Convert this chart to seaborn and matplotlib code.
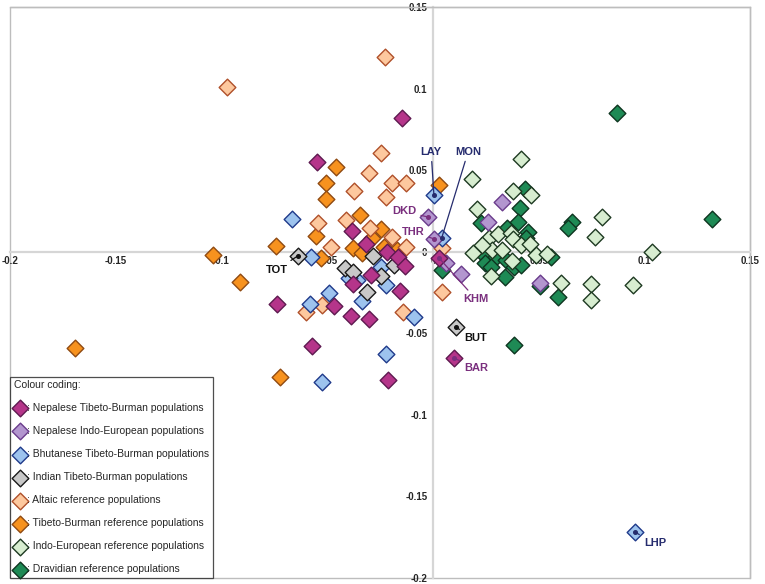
import matplotlib
matplotlib.use("Agg")
import matplotlib.pyplot as plt
from matplotlib.patches import Rectangle
import numpy as np
import pandas as pd
import seaborn as sns

# --- data (x, y per population group) ---
nep_tb_x = [-0.0146, -0.0547, -0.0382, -0.0316, -0.0217, -0.0165, -0.0132, -0.0292, -0.0377,
            -0.0156, -0.0736, -0.0467, -0.0387, -0.0302, -0.0571, -0.0212, 0.0099, 0.0028]
nep_tb_y = [0.0817, 0.0549, 0.0128, 0.0049, 0.0, -0.0030, -0.0085, -0.0140, -0.0195,
            -0.0238, -0.0323, -0.0335, -0.0396, -0.0415, -0.0579, -0.0787, -0.0652, -0.0037]

nep_ie_x = [-0.0024, 0.0005, 0.0325, 0.0259, 0.0061, 0.0132, 0.0509]
nep_ie_y = [0.0213, 0.0079, 0.0305, 0.0183, -0.0067, -0.0134, -0.0189]

bhu_tb_x = [-0.0665, -0.0575, -0.0491, -0.0580, -0.0335, -0.0245, -0.0222, -0.0358, -0.0090,
            -0.0222, -0.0524, -0.0396, 0.0005, 0.0042, 0.0958]
bhu_tb_y = [0.0201, -0.0030, -0.0256, -0.0323, -0.0305, -0.0091, -0.0207, -0.0171, -0.0402,
            -0.0628, -0.0799, -0.0159, 0.0348, 0.0085, -0.1720]

ind_tb_x = [-0.0637, 0.0108, -0.0283, -0.0415, -0.0377, -0.0245, -0.0311, -0.0184]
ind_tb_y = [-0.0024, -0.0463, -0.0024, -0.0098, -0.0122, -0.0146, -0.0244, -0.0079]

altaic_x = [-0.0226, -0.0972, -0.0245, -0.0302, -0.0373, -0.0193, -0.0127, -0.0222, -0.0542,
            -0.0410, -0.0297, -0.0481, -0.0193, -0.0127, 0.0042, 0.0042, -0.0142, -0.0599, -0.0524]
altaic_y = [0.1195, 0.1012, 0.0604, 0.0482, 0.0372, 0.0421, 0.0421, 0.0335, 0.0177,
            0.0195, 0.0146, 0.0030, 0.0091, 0.0030, 0.0024, -0.0250, -0.0372, -0.0372, -0.0329]

tb_ref_x = [-0.0458, -0.0505, -0.0505, -0.0344, -0.0552, -0.0741, -0.1042, -0.0910, -0.0528,
            -0.0245, -0.0377, -0.0335, -0.0231, -0.0288, 0.0028, -0.1693, -0.0722, -0.0170]
tb_ref_y = [0.0518, 0.0421, 0.0323, 0.0226, 0.0098, 0.0037, -0.0018, -0.0183, -0.0037,
            0.0140, 0.0024, -0.0006, 0.0030, 0.0085, 0.0409, -0.0591, -0.0768, 0.0012]

ie_ref_x = [0.0415, 0.0184, 0.0377, 0.0462, 0.0208, 0.0802, 0.0769, 0.1038, 0.0189, 0.0264,
            0.0307, 0.0368, 0.0377, 0.0415, 0.0458, 0.0486, 0.0538, 0.0278, 0.0325, 0.0373,
            0.0274, 0.0608, 0.0750, 0.0750, 0.0948, 0.0231]
ie_ref_y = [0.0567, 0.0445, 0.0372, 0.0348, 0.0262, 0.0213, 0.0091, 0.0, -0.0006, 0.0085,
            0.0110, 0.0116, 0.0079, 0.0043, 0.0049, -0.0018, -0.0012, 0.0012, 0.0012, -0.0055,
            -0.0146, -0.0189, -0.0195, -0.0293, -0.0201, 0.0043]

drav_x = [0.0873, 0.1321, 0.0382, 0.0594, 0.0656, 0.0637, 0.0434, 0.0410, 0.0401, 0.0448,
          0.0349, 0.0226, 0.0439, 0.0241, 0.0297, 0.0245, 0.0274, 0.0344, 0.0382, 0.0415,
          0.0340, 0.0557, 0.0042, 0.0509]
drav_y = [0.0848, 0.0201, -0.0573, -0.0280, 0.0183, 0.0146, 0.0384, 0.0268, 0.0183, 0.0122,
          0.0146, 0.0177, 0.0085, -0.0018, -0.0030, -0.0067, -0.0091, -0.0049, -0.0091, -0.0079,
          -0.0152, -0.0030, -0.0110, -0.0213]

# labelled populations
lab_names = ["LAY", "MON", "DKD", "THR", "KHM", "BUT", "BAR", "TOT", "LHP"]
lab_x = [0.0005, 0.0042, -0.0024, 0.0005, 0.0028, 0.0108, 0.0099, -0.0637, 0.0958]
lab_y = [0.0348, 0.0085, 0.0213, 0.0079, -0.0037, -0.0463, -0.0652, -0.0024, -0.1720]

ticks_x = [-0.2, -0.15, -0.1, -0.05, 0, 0.05, 0.1, 0.15]
ticks_y = [-0.2, -0.15, -0.1, -0.05, 0, 0.05, 0.1, 0.15]

groups = [
    ("Nepalese Tibeto-Burman populations", nep_tb_x, nep_tb_y, "#B5358A", "#5E1A50"),
    ("Nepalese Indo-European populations", nep_ie_x, nep_ie_y, "#B396CF", "#6A3C8C"),
    ("Bhutanese Tibeto-Burman populations", bhu_tb_x, bhu_tb_y, "#9DC3EE", "#1F3A8A"),
    ("Indian Tibeto-Burman populations", ind_tb_x, ind_tb_y, "#C8C8C8", "#1A1A1A"),
    ("Altaic reference populations", altaic_x, altaic_y, "#FDC89E", "#B0502A"),
    ("Tibeto-Burman reference populations", tb_ref_x, tb_ref_y, "#F7921E", "#8F4A12"),
    ("Indo-European reference populations", ie_ref_x, ie_ref_y, "#D7EDD0", "#1E3A22"),
    ("Dravidian reference populations", drav_x, drav_y, "#1E8A55", "#0E3520"),
]
draw_order = [7, 6, 5, 4, 2, 3, 1, 0]

label_style = {
    "LAY": ((-2, 31), "#262C6E"), "MON": ((19, 62), "#262C6E"), "DKD": ((-17, 4), "#7A2F7E"),
    "THR": ((-15, 5), "#7A2F7E"), "KHM": ((27, -30), "#7A2F7E"), "BUT": ((14, -8), "#111111"),
    "BAR": ((16, -7), "#7A2F7E"), "TOT": ((-15, -10), "#111111"), "LHP": ((14, -8), "#262C6E"),
}

sns.set_theme(style="white")
plt.rcParams["font.family"] = ["Liberation Sans", "DejaVu Sans"]

fig = plt.figure(figsize=(7.65, 5.84), dpi=100)
ax = fig.add_axes([10 / 765, 6 / 584, 740 / 765, 571 / 584])

for i in draw_order:
    name, gx, gy, fc, ec = groups[i]
    df = pd.DataFrame({"x": gx, "y": gy})
    sns.scatterplot(data=df, x="x", y="y", ax=ax, marker="D", s=72, color=fc,
                    edgecolor=ec, linewidth=1.0, label=": " + name, zorder=3)

for name, px, py in zip(lab_names, lab_x, lab_y):
    off, col = label_style[name]
    ax.plot(px, py, "o", ms=2.6, color=col, zorder=5)
    ax.annotate(name, xy=(px, py), xytext=off, textcoords="offset points",
                ha="center", va="center", fontsize=8, fontweight="bold", color=col,
                arrowprops=dict(arrowstyle="-", color=col, lw=0.9, shrinkA=1, shrinkB=0),
                zorder=6)

ax.set_xlim(-0.2, 0.15)
ax.set_ylim(-0.2, 0.15)
ax.set_xlabel("")
ax.set_ylabel("")
ax.set_xticks(ticks_x)
ax.set_yticks(ticks_y)
ax.set_xticklabels([("%g" % t) for t in ticks_x])
ax.set_yticklabels([("%g" % t) for t in ticks_y])
ax.spines["left"].set_position("zero")
ax.spines["bottom"].set_position("zero")
for s in ["left", "bottom"]:
    ax.spines[s].set_color("#D6D6D6")
    ax.spines[s].set_linewidth(1.6)
for s in ["top", "right"]:
    ax.spines[s].set_color("#BDBDBD")
    ax.spines[s].set_linewidth(1.0)
ax.add_patch(Rectangle((0, 0), 1, 1, transform=ax.transAxes, fill=False,
                       edgecolor="#BDBDBD", lw=1.0, clip_on=False, zorder=0))
ax.tick_params(axis="x", direction="in", length=3, width=0.8, color="#444444",
               labelsize=7, pad=3)
ax.tick_params(axis="y", direction="out", length=3, width=0.8, color="#444444",
               labelsize=7, pad=1)
for lbl in ax.get_xticklabels() + ax.get_yticklabels():
    lbl.set_fontweight("bold")

h, l = ax.get_legend_handles_labels()
order = [l.index(": " + g[0]) for g in groups]
leg = ax.legend([h[k] for k in order], [l[k] for k in order], title="Colour coding:",
                loc="lower left", bbox_to_anchor=(0.0, 0.0), borderaxespad=0.0,
                fontsize=7.5, title_fontsize=7.5, labelspacing=1.25, handletextpad=0.0,
                handlelength=1.3, markerscale=1.0, frameon=True, fancybox=False,
                alignment="left", borderpad=0.35)
leg.get_frame().set_edgecolor("#222222")
leg.get_frame().set_linewidth(0.9)

fig.savefig("out.png", dpi=100)
